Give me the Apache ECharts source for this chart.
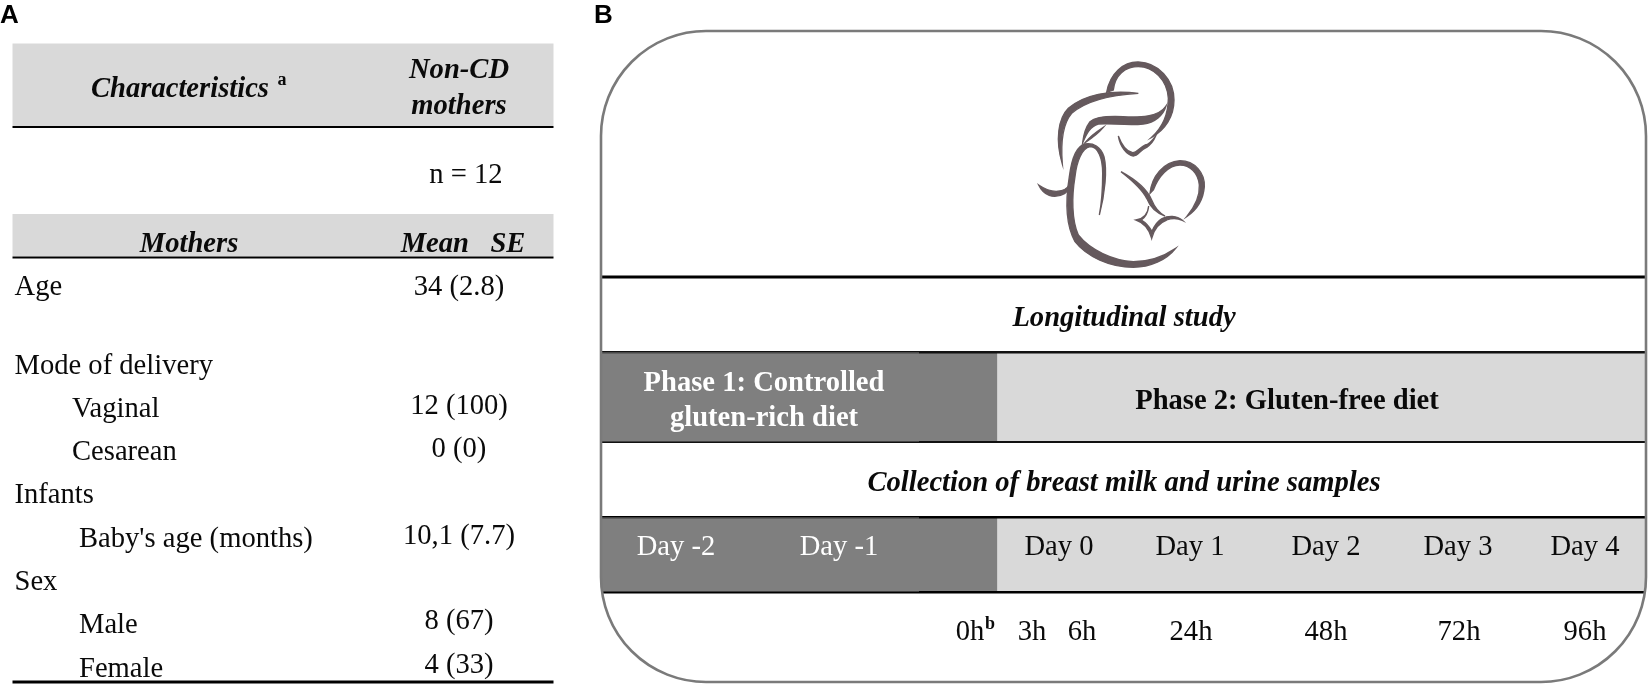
<!DOCTYPE html>
<html lang="en" style="height: 100%">
<head>
  <meta charset="utf-8">
</head>
<body style="height: 100%; margin: 0; background: #fff">
  <div id="container" style="height: 100%"></div>
  <script type="text/javascript" src="https://fastly.jsdelivr.net/npm/echarts@6/dist/echarts.min.js"></script>
  <script type="text/javascript">
    // panel A: table content
    var rowLabels = ['Age', 'Mode of delivery', 'Vaginal', 'Cesarean', 'Infants', "Baby's age (months)", 'Sex', 'Male', 'Female'];
    var rowValues = ['34 (2.8)', '', '12 (100)', '0 (0)', '', '10,1 (7.7)', '', '8 (67)', '4 (33)'];
    var sampleSize = 'n = 12';
    var headerLabels = ['Characteristics', 'Mothers'];
    var headerValues = ['Non-CD', 'mothers', 'Mean   SE'];

    // panel B: timeline content
    var phaseLabels = ['Phase 1: Controlled', 'gluten-rich diet', 'Phase 2: Gluten-free diet'];
    var studyLabels = ['Longitudinal study', 'Collection of breast milk and urine samples'];
    var dayLabels = ['Day -2', 'Day -1', 'Day 0', 'Day 1', 'Day 2', 'Day 3', 'Day 4'];
    var hourLabels = ['0h', '3h', '6h', '24h', '48h', '72h', '96h'];

    // layout, in picture pixels
    var rowLabelX = [14.5, 14.5, 72, 72, 14.5, 79, 14.5, 79, 79];
    var rowLabelY = [287.5, 366.5, 409.5, 452, 495, 539, 582, 625.5, 669];
    var rowValueY = [287, 366, 406, 449, 495, 536, 581, 621.5, 665];
    var dayX = [676, 839, 1059, 1190, 1326, 1458, 1585];
    var hourX = [970, 1032, 1082, 1191, 1326, 1459, 1585];

    var SERIF = '"Liberation Serif", "Times New Roman", serif';
    var SANS = '"Liberation Sans", Arial, sans-serif';
    var PLAIN = '28.6px ' + SERIF;
    var HEAD = 'italic bold 28.6px ' + SERIF;
    var BOLD = 'bold 28.6px ' + SERIF;
    var DARK = '#7f7f7f', LIGHT = '#d9d9d9', INK = '#0a0a0a';

    // [x0, y0, x1, y1, colour]
    var rects = [
      [12.5, 43.5, 553.5, 126, LIGHT],
      [12.5, 214, 553.5, 256.5, LIGHT],
      [602, 353, 997.5, 441, DARK],
      [997.5, 353, 1645, 441, LIGHT],
      [602, 518, 997.5, 591, DARK],
      [997.5, 518, 1645, 591, LIGHT],
      // rules
      [12.5, 126, 553.5, 128, '#000'],
      [12.5, 256.5, 553.5, 258.5, '#000'],
      [12.5, 680.5, 553.5, 683.5, '#000'],
      [602, 275.5, 1645, 278.5, '#000'],
      [602, 351, 1645, 353.5, '#111'],
      [602, 441, 1645, 443, '#111'],
      [602, 516, 1645, 518.5, '#000'],
      [602, 591, 1645, 593.5, '#000'],
      // rules sit a little thinner over the left of the dark bands
      [602, 352.5, 919, 353.5, DARK],
      [602, 441, 919, 441.8, '#555'],
      [602, 517.5, 919, 518.5, DARK],
      [602, 591, 919, 591.8, '#555']
    ];

    // [x, y, text, font, colour, align]
    var texts = [
      [0, 16, 'A', 'bold 26px ' + SANS, '#000', 'left'],
      [594, 15.5, 'B', 'bold 26px ' + SANS, '#000', 'left'],
      [180, 89.5, headerLabels[0], HEAD, INK, 'center'],
      [282, 80, 'a', 'bold 18px ' + SERIF, INK, 'center'],
      [459, 71, headerValues[0], HEAD, INK, 'center'],
      [459, 107, headerValues[1], HEAD, INK, 'center'],
      [466, 175, sampleSize, PLAIN, INK, 'center'],
      [189, 245, headerLabels[1], HEAD, INK, 'center'],
      [463, 245, headerValues[2], HEAD, INK, 'center'],
      [1124, 319, studyLabels[0], HEAD, INK, 'center'],
      [1124, 484, studyLabels[1], HEAD, INK, 'center'],
      [764, 384, phaseLabels[0], BOLD, '#fff', 'center'],
      [764, 419, phaseLabels[1], BOLD, '#fff', 'center'],
      [1287, 402, phaseLabels[2], BOLD, INK, 'center'],
      [990, 624, 'b', 'bold 18px ' + SERIF, INK, 'center']
    ];
    rowLabels.forEach(function (s, i) {
      texts.push([rowLabelX[i], rowLabelY[i], s, PLAIN, INK, 'left']);
      if (rowValues[i]) texts.push([459, rowValueY[i], rowValues[i], PLAIN, INK, 'center']);
    });
    dayLabels.forEach(function (s, i) {
      texts.push([dayX[i], 547, s, PLAIN, i < 2 ? '#fff' : INK, 'center']);
    });
    hourLabels.forEach(function (s, i) {
      texts.push([hourX[i], 632, s, PLAIN, INK, 'center']);
    });

    // mother and child logo, brush strokes drawn at 3x
    var logoPaths = [
      'M470,187 C480,130 520,95 565,96 C625,98 672,150 672,210 C672,260 645,300 605,322 C640,290 655,250 655,205 C652,150 610,110 565,110 C525,110 495,135 490,180 Z',
      'M565,190 C480,178 400,195 355,235 C325,265 315,330 337,402 C332,340 335,285 365,250 C405,215 480,195 565,190 Z',
      'M648,228 C625,262 570,262 520,260 C480,258 440,258 420,275 C405,295 400,320 398,338 C410,310 420,290 445,282 C480,278 530,288 580,282 C615,278 640,255 648,228 Z',
      'M460,292 C440,305 420,320 405,338 C425,325 445,310 460,292 Z',
      'M505,318 C510,350 530,375 550,378 C565,378 570,360 590,352 C600,345 610,335 617,318 C605,335 595,345 585,345 C570,352 560,368 548,368 C530,365 515,345 505,318 Z',
      'M448,555 C465,490 472,420 462,380 C452,350 430,338 405,342 C380,348 365,385 358,440 C345,520 350,590 375,635 C410,680 480,712 550,712 C600,712 650,690 677,655 C640,680 600,695 550,695 C490,692 420,660 385,615 C365,570 365,500 375,440 C380,395 395,355 420,350 C445,350 458,385 458,430 C458,480 455,520 448,555 Z',
      'M266,465 C280,495 310,510 345,490 C355,482 360,470 365,455 L358,465 C345,485 310,495 266,465 Z',
      'M513,425 C550,445 590,475 605,510 C615,535 630,550 645,558 C620,550 600,530 590,505 C575,475 545,450 513,425 Z',
      'M600,490 C605,440 640,395 690,392 C735,392 765,430 763,470 C760,510 740,540 710,560 C735,530 750,500 748,465 C745,430 720,405 690,405 C655,405 625,440 610,480 Z',
      'M596,528 C594,552 580,566 558,570 C582,578 598,598 605,625 C612,596 628,578 650,570 C665,564 682,564 697,571 C680,556 655,556 636,566 C622,574 612,590 606,604 C598,590 588,578 574,570 C586,562 594,548 596,528 Z'
    ];

    var dom = document.getElementById('container');
    var myChart = echarts.init(dom, null, { renderer: 'canvas' });
    var option = {
      animation: false,
      backgroundColor: '#fff',
      grid: { left: 0, right: 0, top: 0, bottom: 0 },
      // axes are hidden and run in picture pixels
      xAxis: { type: 'value', min: 0, max: 1648, show: false },
      yAxis: { type: 'value', min: 0, max: 685, inverse: true, show: false },
      series: [
        {
          type: 'custom',
          silent: true,
          z: 1,
          data: rects.map(function (r) { return [r[0], r[1], r[2], r[3]]; }),
          renderItem: function (params, api) {
            var r = rects[params.dataIndex];
            var a = api.coord([r[0], r[1]]);
            var b = api.coord([r[2], r[3]]);
            return { type: 'rect', shape: { x: a[0], y: a[1], width: b[0] - a[0], height: b[1] - a[1] }, style: { fill: r[4] } };
          }
        },
        {
          type: 'custom',
          silent: true,
          z: 5,
          data: texts.map(function (t) { return [t[0], t[1]]; }),
          renderItem: function (params, api) {
            var t = texts[params.dataIndex];
            var p = api.coord([t[0], t[1]]);
            return {
              type: 'text', x: p[0], y: p[1],
              style: { text: t[2], font: t[3], fill: t[4], align: t[5], verticalAlign: 'middle' }
            };
          }
        },
        {
          type: 'custom',
          silent: true,
          z: 6,
          data: [[950, 30]],
          renderItem: function (params, api) {
            var p = api.coord([950, 30]);
            return {
              type: 'group', x: p[0], y: p[1], scaleX: 1 / 3, scaleY: 1 / 3,
              children: logoPaths.map(function (d) {
                return { type: 'path', shape: { pathData: d }, style: { fill: '#65595d', stroke: '#65595d', lineWidth: 4 } };
              })
            };
          }
        }
      ],
      graphic: [
        {
          type: 'rect', silent: true, z: 10,
          shape: { x: 601, y: 31, width: 1045, height: 651, r: 105 },
          style: { fill: 'none', stroke: '#7a7a7a', lineWidth: 2.6 }
        }
      ]
    };
    myChart.setOption(option);
    window.addEventListener('resize', myChart.resize);
  </script>
</body>
</html>
